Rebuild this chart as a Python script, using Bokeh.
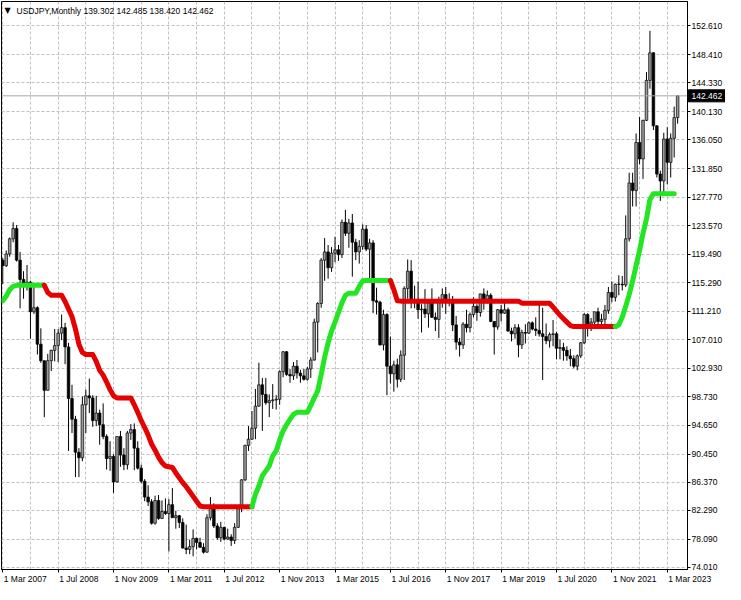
from bokeh.plotting import figure
from bokeh.models import FixedTicker, Label, Span, Range1d, NumeralTickFormatter
from bokeh.core.properties import value
from bokeh.embed import file_html
from bokeh.resources import INLINE

# ---- data: USDJPY monthly, Mar 2007 .. Jun 2023 ----
opens = [
    118.6, 117.8, 119.5, 121.7, 123.2, 118.6, 115.8, 114.8, 115.4, 111.1,
    111.7, 106.4, 104.0, 99.7, 104.0, 105.5, 106.2, 108.0, 108.8, 106.0, 98.5, 95.5,
    90.7, 89.9, 97.6, 98.9, 98.6, 95.3, 96.4, 94.7, 93.0, 89.8, 90.1, 86.4,
    93.0, 90.3, 88.9, 93.5, 94.0, 91.3, 88.4, 86.5, 84.2, 83.5, 80.4, 83.7,
    81.1, 82.1, 81.8, 83.1, 81.2, 81.5, 80.5, 76.8, 76.6, 77.0, 78.2, 77.6,
    76.9, 76.2, 81.2, 82.9, 80.0, 78.3, 79.8, 78.1, 78.4, 77.9, 79.8, 82.5,
    86.7, 91.7, 92.6, 94.2, 97.4, 100.5, 99.1, 97.9, 98.2, 98.3, 98.4, 102.4,
    105.3, 102.0, 101.8, 103.2, 102.2, 101.8, 101.3, 102.8, 104.1, 109.6, 112.3, 118.6,
    119.8, 117.5, 119.6, 120.1, 119.4, 124.1, 122.5, 124.0, 121.2, 119.8, 120.6, 123.1,
    120.2, 121.1, 112.7, 112.5, 106.3, 110.7, 103.2, 102.1, 103.4, 101.3, 104.8, 114.5,
    117.0, 112.7, 112.8, 111.4, 111.5, 110.8, 112.4, 110.3, 110.0, 112.5, 113.6, 112.5,
    112.7, 109.2, 106.7, 106.3, 109.3, 108.8, 110.7, 111.9, 111.0, 113.7, 112.9, 113.5,
    109.7, 108.9, 111.4, 110.9, 111.4, 108.3, 107.9, 108.8, 106.3, 108.1, 108.0, 109.5,
    108.6, 108.4, 107.9, 107.5, 106.9, 107.8, 107.9, 105.8, 105.9, 105.5, 104.7, 104.3,
    103.2, 104.7, 106.6, 110.7, 109.3, 109.6, 111.1, 109.7, 110.0, 111.3, 113.9, 113.2,
    115.1, 115.1, 115.0, 121.7, 129.8, 128.7, 135.7, 133.3, 138.9, 144.7, 148.7, 138.1,
    131.1, 130.1, 136.2, 132.8, 136.3, 139.302,
]
highs = [
    118.9, 120.0, 121.9, 124.1, 123.7, 119.8, 117.0, 117.9, 115.6, 114.7,
    111.9, 108.7, 104.0, 105.0, 105.6, 108.6, 108.6, 110.7, 109.5, 106.6, 100.5, 96.0,
    91.3, 98.8, 99.8, 101.4, 99.0, 98.9, 96.9, 97.8, 93.3, 92.3, 90.4, 93.0,
    93.8, 91.3, 93.8, 94.8, 94.9, 92.3, 88.9, 86.8, 85.9, 83.9, 84.4, 84.5,
    83.7, 84.0, 83.9, 85.5, 82.2, 81.6, 81.1, 80.2, 78.0, 79.5, 78.3, 78.3,
    77.5, 81.7, 84.2, 83.3, 80.4, 80.6, 79.9, 79.6, 78.8, 80.4, 82.8, 86.8,
    91.8, 94.5, 96.7, 99.9, 103.7, 101.5, 101.5, 99.1, 100.6, 99.0, 102.6, 105.4,
    105.4, 102.8, 103.8, 104.1, 102.7, 102.8, 103.1, 104.5, 110.1, 112.5, 118.9, 121.8,
    120.8, 120.5, 122.0, 120.8, 124.5, 125.9, 124.6, 125.3, 121.7, 121.5, 123.8, 123.7,
    121.7, 121.5, 114.6, 112.7, 111.4, 110.9, 107.5, 104.0, 104.3, 105.5, 114.8, 118.7,
    118.6, 114.9, 115.5, 112.2, 114.4, 112.5, 114.5, 111.0, 113.3, 114.5, 114.7, 113.8,
    113.4, 110.5, 107.3, 109.6, 111.4, 111.0, 113.2, 112.2, 113.7, 114.5, 114.2, 113.8,
    109.7, 111.5, 112.1, 112.4, 111.7, 108.8, 109.3, 109.3, 108.5, 109.3, 109.7, 109.7,
    110.3, 112.2, 111.7, 109.4, 108.1, 109.9, 108.2, 107.1, 106.6, 106.1, 105.7, 104.8,
    104.9, 106.7, 110.9, 110.9, 110.2, 111.1, 111.7, 110.8, 112.1, 114.7, 115.5, 115.2,
    116.4, 116.3, 125.1, 131.3, 131.3, 137.0, 139.4, 139.0, 145.9, 151.9, 148.8, 138.2,
    131.6, 137.1, 137.9, 137.0, 140.9, 142.485,
]
lows = [
    115.1, 117.6, 119.1, 121.2, 118.4, 111.6, 113.0, 114.2, 107.2, 110.8,
    104.9, 103.7, 95.8, 99.7, 102.5, 103.9, 103.8, 107.0, 103.5, 90.9, 93.5, 87.1,
    87.1, 89.4, 93.5, 96.4, 94.4, 94.5, 91.8, 92.6, 88.2, 88.0, 84.8, 86.3,
    88.6, 88.1, 88.2, 92.5, 88.1, 88.2, 86.2, 83.6, 82.9, 80.2, 80.2, 80.9,
    81.0, 81.6, 76.3, 81.3, 79.6, 79.7, 76.7, 75.9, 75.9, 75.6, 76.6, 76.8,
    76.0, 76.1, 80.8, 79.7, 78.0, 77.7, 77.9, 78.0, 77.1, 77.4, 79.7, 82.0,
    86.5, 90.9, 92.5, 92.6, 97.3, 93.8, 97.6, 95.8, 97.0, 96.9, 97.6, 101.6,
    101.8, 100.8, 101.2, 101.4, 100.8, 101.1, 101.1, 101.5, 104.0, 105.2, 111.7, 115.6,
    115.9, 116.9, 118.3, 118.5, 118.9, 122.1, 120.4, 116.2, 118.6, 118.1, 120.1, 119.9,
    115.9, 110.9, 110.7, 106.2, 105.5, 99.0, 100.7, 99.5, 100.1, 100.9, 101.2, 113.0,
    111.6, 111.6, 110.1, 108.1, 110.2, 108.8, 110.2, 108.3, 107.3, 111.7, 110.8, 111.9,
    108.3, 105.6, 104.6, 105.7, 108.1, 108.1, 110.3, 109.8, 110.4, 111.4, 112.3, 109.6,
    104.9, 108.5, 109.7, 110.8, 108.2, 106.8, 107.2, 104.5, 105.7, 106.5, 107.9, 108.4,
    107.6, 107.5, 101.2, 106.4, 105.9, 106.1, 104.2, 104.2, 104.0, 104.0, 103.2, 102.9,
    102.6, 104.4, 106.4, 107.5, 108.3, 108.8, 109.1, 108.7, 109.1, 110.8, 112.5, 112.6,
    113.5, 114.2, 114.7, 121.3, 126.4, 126.4, 132.5, 130.4, 138.8, 143.5, 137.5, 130.6,
    127.2, 128.1, 129.6, 130.6, 133.5, 138.420,
]
closes = [
    117.8, 119.5, 121.7, 123.2, 118.6, 115.8, 114.8, 115.4, 111.1, 111.7,
    106.4, 104.0, 99.7, 104.0, 105.5, 106.2, 108.0, 108.8, 106.0, 98.5, 95.5, 90.7,
    89.9, 97.6, 98.9, 98.6, 95.3, 96.4, 94.7, 93.0, 89.8, 90.1, 86.4, 93.0,
    90.3, 88.9, 93.5, 94.0, 91.3, 88.4, 86.5, 84.2, 83.5, 80.4, 83.7, 81.1,
    82.1, 81.8, 83.1, 81.2, 81.5, 80.5, 76.8, 76.6, 77.0, 78.2, 77.6, 76.9,
    76.2, 81.2, 82.9, 80.0, 78.3, 79.8, 78.1, 78.4, 77.9, 79.8, 82.5, 86.7,
    91.7, 92.6, 94.2, 97.4, 100.5, 99.1, 97.9, 98.2, 98.3, 98.4, 102.4, 105.3,
    102.0, 101.8, 103.2, 102.2, 101.8, 101.3, 102.8, 104.1, 109.6, 112.3, 118.6, 119.8,
    117.5, 119.6, 120.1, 119.4, 124.1, 122.5, 124.0, 121.2, 119.8, 120.6, 123.1, 120.2,
    121.1, 112.7, 112.5, 106.3, 110.7, 103.2, 102.1, 103.4, 101.3, 104.8, 114.5, 117.0,
    112.7, 112.8, 111.4, 111.5, 110.8, 112.4, 110.3, 110.0, 112.5, 113.6, 112.5, 112.7,
    109.2, 106.7, 106.3, 109.3, 108.8, 110.7, 111.9, 111.0, 113.7, 112.9, 113.5, 109.7,
    108.9, 111.4, 110.9, 111.4, 108.3, 107.9, 108.8, 106.3, 108.1, 108.0, 109.5, 108.6,
    108.4, 107.9, 107.5, 106.9, 107.8, 107.9, 105.8, 105.9, 105.5, 104.7, 104.3, 103.2,
    104.7, 106.6, 110.7, 109.3, 109.6, 111.1, 109.7, 110.0, 111.3, 113.9, 113.2, 115.1,
    115.1, 115.0, 121.7, 129.8, 128.7, 135.7, 133.3, 138.9, 144.7, 148.7, 138.1, 131.1,
    130.1, 136.2, 132.8, 136.3, 139.3, 142.462,
]

# trailing trend line (one value per bar, last bar excluded)
trail = [
    112.7, 113.4, 114.3, 114.8, 114.95, 114.95, 114.95, 114.95, 114.95, 114.95,
    114.95, 114.95, 114.95, 113.9, 113.5, 113.5, 113.5, 113.5, 112.6, 111.5,
    110.4, 108.6, 106.4, 105.2, 104.9, 104.9, 104.9, 103.9, 102.6, 101.9,
    100.9, 99.8, 98.9, 98.6, 98.6, 98.6, 98.6, 98.6, 97.6, 96.5,
    95.3, 94.3, 93.2, 91.9, 91.0, 90.0, 89.2, 88.7, 88.6, 88.5,
    87.7, 87.0, 86.3, 85.7, 85.0, 84.3, 83.6, 82.9, 82.8, 82.8,
    82.8, 82.8, 82.8, 82.8, 82.8, 82.8, 82.8, 82.8, 82.8, 82.8,
    82.8, 82.8, 82.8, 84.6, 85.8, 87.3, 88.0, 88.7, 90.2, 90.9,
    92.5, 93.8, 94.7, 95.5, 96.2, 96.5, 96.5, 96.5, 96.5, 97.5,
    98.6, 99.6, 102.0, 104.5, 106.6, 108.3, 109.6, 111.0, 112.4, 113.5,
    113.8, 113.8, 113.8, 114.8, 115.6, 115.65, 115.65, 115.65, 115.65, 115.65,
    115.65, 115.65, 115.65, 114.3, 112.7, 112.65, 112.65, 112.65, 112.65, 112.65,
    112.65, 112.65, 112.65, 112.65, 112.65, 112.65, 112.65, 112.65, 112.65, 112.65,
    112.65, 112.65, 112.65, 112.65, 112.65, 112.65, 112.65, 112.65, 112.65, 112.65,
    112.65, 112.65, 112.65, 112.65, 112.65, 112.65, 112.65, 112.65, 112.65, 112.65,
    112.35, 112.35, 112.35, 112.35, 112.35, 112.35, 112.35, 112.35, 112.35, 111.8,
    111.2, 110.6, 110.1, 109.6, 109.1, 108.95, 108.95, 108.95, 108.95, 108.95,
    108.95, 108.95, 108.95, 108.95, 108.95, 108.95, 108.95, 108.95, 109.2, 110.3,
    111.9, 113.6, 115.6, 117.8, 120.0, 122.5, 124.6, 127.4, 128.25, 128.26,
    128.26, 128.26, 128.26, 128.26, 128.26,
]
# trend state runs: (state, first bar, last bar)
trend_runs = [("up", 0, 12), ("down", 12, 72), ("up", 72, 112), ("down", 112, 177), ("up", 177, 194)]

price_ticks = [152.610, 148.410, 144.330, 140.130, 136.050, 131.850, 127.770, 123.570,
               119.490, 115.290, 111.210, 107.010, 102.930, 98.730, 94.650, 90.450,
               86.370, 82.290, 78.090, 74.010]
date_ticks = [0, 16, 32, 48, 64, 80, 96, 112, 128, 144, 160, 176, 192]
date_labels = ["1 Mar 2007", "1 Jul 2008", "1 Nov 2009", "1 Mar 2011", "1 Jul 2012",
               "1 Nov 2013", "1 Mar 2015", "1 Jul 2016", "1 Nov 2017", "1 Mar 2019",
               "1 Jul 2020", "1 Nov 2021", "1 Mar 2023"]
last_price = 142.462
title_text = "USDJPY,Monthly  139.302 142.485 138.420 142.462"

FONT = "Liberation Sans"
FS = "8.5px"
Y0, Y1 = 73.68, 156.16
X0, X1 = -0.37, 197.85
FRAME_W = 689.0                      # approx. frame width in px
PX_PER_BAR = FRAME_W / (X1 - X0)

n = len(closes)
idx = list(range(n))
up_i = [i for i in idx if closes[i] >= opens[i]]
dn_i = [i for i in idx if closes[i] < opens[i]]

p = figure(width=725, height=584, x_range=Range1d(X0, X1),
           y_range=Range1d(Y0, Y1), output_backend="svg",
           toolbar_location=None, y_axis_location="right",
           min_border_left=1, min_border_top=1, min_border_right=35, min_border_bottom=15)
p.background_fill_color = "white"
p.border_fill_color = "white"
p.outline_line_color = "black"
p.outline_line_width = 1

# grid
p.xgrid.ticker = FixedTicker(ticks=list(range(0, 196, 8)))
p.ygrid.ticker = FixedTicker(ticks=price_ticks)
for g in (p.xgrid, p.ygrid):
    g.grid_line_color = "#c0c0c0"
    g.grid_line_dash = "3 2"
    g.grid_line_width = 1

# axes
p.yaxis.ticker = FixedTicker(ticks=price_ticks)
p.yaxis.formatter = NumeralTickFormatter(format="0.000")
p.yaxis.major_label_text_font = FONT
p.yaxis.major_label_text_font_size = FS
p.yaxis.major_label_text_color = "black"
p.yaxis.major_tick_out = 3
p.yaxis.major_tick_in = 0
p.yaxis.minor_tick_out = 0
p.yaxis.minor_tick_in = 0
p.yaxis.major_label_standoff = 1
p.yaxis.axis_line_color = "black"
p.yaxis.major_tick_line_color = "black"

p.xaxis.ticker = FixedTicker(ticks=date_ticks)
p.xaxis.major_label_overrides = {t: "" for t in date_ticks}
p.xaxis.major_label_text_font_size = "0px"
p.xaxis.major_label_standoff = 0
p.xaxis.major_tick_out = 3
p.xaxis.major_tick_in = 0
p.xaxis.minor_tick_out = 0
p.xaxis.minor_tick_in = 0
p.xaxis.axis_line_color = "black"
p.xaxis.major_tick_line_color = "black"

# current price line
p.add_layout(Span(location=last_price, dimension="width", line_color="#a8a8a8", line_width=1))

# candles
p.segment(x0=idx, y0=lows, x1=idx, y1=highs, line_color="black", line_width=1)
p.vbar(x=up_i, width=0.75, bottom=[opens[i] for i in up_i], top=[closes[i] for i in up_i],
       fill_color="#9a9a9a", line_color="black", line_width=0.7)
p.vbar(x=dn_i, width=0.75, bottom=[closes[i] for i in dn_i], top=[opens[i] for i in dn_i],
       fill_color="black", line_color="black", line_width=0.7)

# trend line
colors = {"up": "#22e622", "down": "#e60000"}
for state, a, b in trend_runs:
    xs = list(range(a, b + 1))
    ys = [trail[i] for i in xs]
    p.line(xs, ys, line_color=colors[state], line_width=5, line_join="round", line_cap="round")

# title
p.add_layout(Label(x=X0, y=Y1, x_offset=3, y_offset=-9, text="\u25bc", text_font="DejaVu Sans",
                   text_font_size="8px", text_baseline="middle", text_align="left", text_color="black"))
p.add_layout(Label(x=X0, y=Y1, x_offset=15, y_offset=-9, text=title_text, text_font=FONT,
                   text_font_size=FS, text_baseline="middle", text_align="left", text_color="black"))

# date labels below axis, left aligned at ticks (overlay level -> not clipped to frame)
p.text(x=date_ticks, y=[Y0] * len(date_ticks), text=date_labels, x_offset=1, y_offset=9,
       text_font=value(FONT), text_font_size=FS, text_baseline="middle", text_align="left",
       text_color="black", level="overlay")

# current price tag on the price axis
tag_w = 37
p.rect(x=[X1 + (1 + tag_w / 2) / PX_PER_BAR], y=[last_price], width=tag_w, height=12,
       width_units="screen", height_units="screen", fill_color="black", line_color="black",
       level="overlay")
p.text(x=[X1], y=[last_price], text=["%.3f" % last_price], x_offset=4, y_offset=0,
       text_font=value(FONT), text_font_size=FS, text_baseline="middle", text_align="left",
       text_color="white", level="overlay")

open("out.html", "w").write(file_html(p, INLINE))
